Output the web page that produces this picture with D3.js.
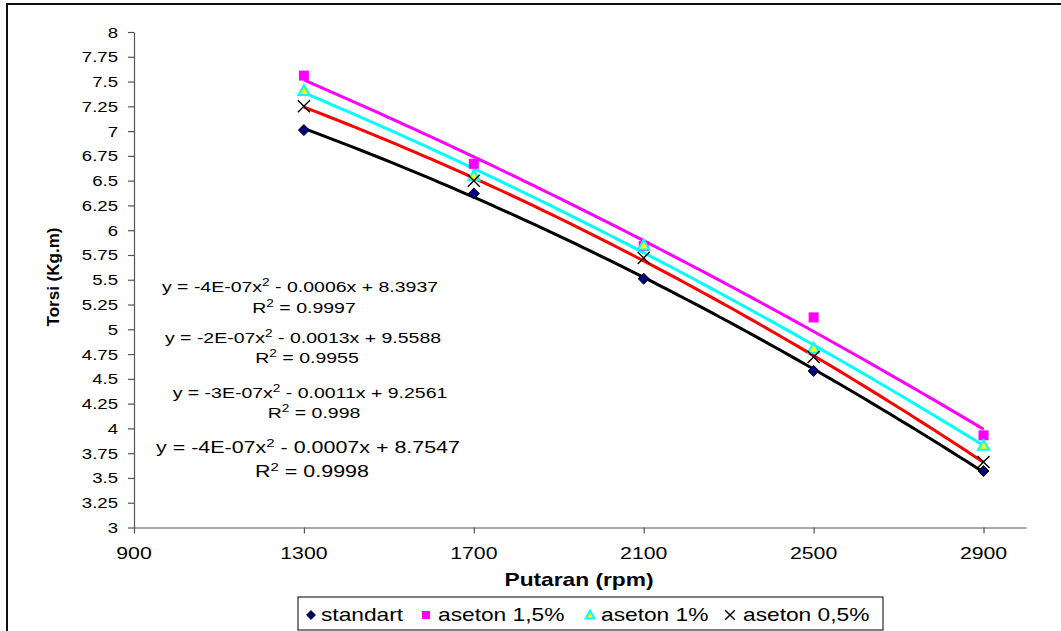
<!DOCTYPE html>
<html>
<head>
<meta charset="utf-8">
<script src="https://cdn.jsdelivr.net/npm/d3@7"></script>
<style>
  body { margin: 0; background: #fff; }
  svg { display: block; font-family: "Liberation Sans", Arial, sans-serif; }
</style>
</head>
<body>
<div id="chart"></div>
<script>
// rpm values on the x axis
const putaran = [1300, 1700, 2100, 2500, 2900];

// torque readings per fuel mix (Kg.m)
const standart = [7.01, 6.37, 5.51, 4.58, 3.57];
const aseton15 = [7.56, 6.67, 5.84, 5.12, 3.93];
const aseton10 = [7.41, 6.55, 5.85, 4.81, 3.83];
const aseton05 = [7.25, 6.50, 5.72, 4.72, 3.66];

const seriesNames = ["standart", "aseton 1,5%", "aseton 1%", "aseton 0,5%"];

const xTicks = [900, 1300, 1700, 2100, 2500, 2900];
const yTicks = d3.range(3, 8.001, 0.25);

// trendline labels as printed on the chart
const equations = [
    { eq: ["y = -4E-07x", "2", " - 0.0006x + 8.3937"], r2: "0.9997" },
    { eq: ["y = -2E-07x", "2", " - 0.0013x + 9.5588"], r2: "0.9955" },
    { eq: ["y = -3E-07x", "2", " - 0.0011x + 9.2561"], r2: "0.998" },
    { eq: ["y = -4E-07x", "2", " - 0.0007x + 8.7547"], r2: "0.9998" }
];

const width = 1061, height = 631;
const svg = d3.select("#chart").append("svg")
    .attr("width", width)
    .attr("height", height);

// outer chart frame
svg.append("rect")
    .attr("x", 7).attr("y", 4)
    .attr("width", 1200).attr("height", 800)
    .attr("fill", "none")
    .attr("stroke", "#111")
    .attr("stroke-width", 2);

const x = d3.scaleLinear().domain([900, 3000]).range([134, 1026]);
const y = d3.scaleLinear().domain([3, 8]).range([527.5, 32]);

// stretched text helper (the original renders text wide)
function label(g, tx, ty, txt, opts) {
    const t = g.append("text")
        .attr("transform", `translate(${tx},${ty}) scale(${opts.sx || 1},1)`)
        .attr("font-size", opts.size)
        .attr("text-anchor", opts.anchor || "start")
        .attr("font-weight", opts.weight || "normal")
        .attr("fill", "#000");
    if (txt !== null) t.text(txt);
    return t;
}

// axes
const gx = svg.append("g")
    .attr("transform", `translate(0,${y(3)})`)
    .call(d3.axisBottom(x).tickValues(xTicks).tickSizeInner(6).tickSizeOuter(0).tickFormat(""));
const gy = svg.append("g")
    .attr("transform", `translate(${x(900)},0)`)
    .call(d3.axisLeft(y).tickValues(yTicks).tickSizeInner(6).tickSizeOuter(0).tickFormat(""));
svg.selectAll(".domain, .tick line").attr("stroke", "#555").attr("stroke-width", 1.2);

xTicks.forEach(v => label(svg, x(v), 559, String(v), { size: 17, sx: 1.25, anchor: "middle" }));
yTicks.forEach(v => label(svg, 118, y(v) + 5.5, String(+v.toFixed(2)), { size: 15.5, sx: 1.2, anchor: "end" }));

// axis titles
label(svg, 579, 586, "Putaran (rpm)", { size: 17.5, sx: 1.3, anchor: "middle", weight: "bold" });
svg.append("text")
    .attr("transform", `translate(59,277) rotate(-90)`)
    .attr("font-size", 17)
    .attr("font-weight", "bold")
    .attr("text-anchor", "middle")
    .text("Torsi (Kg.m)");

// quadratic least-squares fit, like the spreadsheet trendline
function polyFit(xs, ys) {
    const s = [0, 0, 0, 0, 0], t = [0, 0, 0];
    xs.forEach((xv, i) => {
        const u = xv / 1000;
        for (let k = 0; k < 5; k++) s[k] += Math.pow(u, k);
        for (let k = 0; k < 3; k++) t[k] += ys[i] * Math.pow(u, k);
    });
    const A = [[s[0], s[1], s[2], t[0]], [s[1], s[2], s[3], t[1]], [s[2], s[3], s[4], t[2]]];
    for (let i = 0; i < 3; i++) {
        for (let j = i + 1; j < 3; j++) {
            const f = A[j][i] / A[i][i];
            for (let k = i; k < 4; k++) A[j][k] -= f * A[i][k];
        }
    }
    const c = [0, 0, 0];
    for (let i = 2; i >= 0; i--) {
        let sum = A[i][3];
        for (let k = i + 1; k < 3; k++) sum -= A[i][k] * c[k];
        c[i] = sum / A[i][i];
    }
    return xv => { const u = xv / 1000; return c[0] + c[1] * u + c[2] * u * u; };
}

const series = [
    { name: seriesNames[0], values: standart, line: "#000000", marker: "diamond" },
    { name: seriesNames[3], values: aseton05, line: "#ff0000", marker: "cross" },
    { name: seriesNames[2], values: aseton10, line: "#00ffff", marker: "triangle" },
    { name: seriesNames[1], values: aseton15, line: "#ff00ff", marker: "square" }
];

const line = d3.line().x(d => x(d[0])).y(d => y(d[1])).curve(d3.curveLinear);
const xs = d3.range(1300, 2900.1, 20);
series.forEach(s => {
    const f = polyFit(putaran, s.values);
    svg.append("path")
        .attr("d", line(xs.map(v => [v, f(v)])))
        .attr("fill", "none")
        .attr("stroke", s.line)
        .attr("stroke-width", 3);
});

function drawMarker(g, type, cx, cy, k) {
    k = k || 1;
    if (type === "diamond") {
        g.append("path")
            .attr("d", `M${cx},${cy - 5.5 * k}L${cx + 5.5 * k},${cy}L${cx},${cy + 5.5 * k}L${cx - 5.5 * k},${cy}Z`)
            .attr("fill", "#000080").attr("stroke", "#000").attr("stroke-width", 1);
    } else if (type === "square") {
        g.append("rect")
            .attr("x", cx - 5 * k).attr("y", cy - 5 * k)
            .attr("width", 10 * k).attr("height", 10 * k)
            .attr("fill", "#ff00ff");
    } else if (type === "triangle") {
        g.append("path")
            .attr("d", `M${cx},${cy - 5.5 * k}L${cx + 5.5 * k},${cy + 4.5 * k}L${cx - 5.5 * k},${cy + 4.5 * k}Z`)
            .attr("fill", "#ffff00").attr("stroke", "#00ffff").attr("stroke-width", 2);
    } else {
        g.append("path")
            .attr("d", `M${cx - 6 * k},${cy - 6 * k}L${cx + 6 * k},${cy + 6 * k}M${cx + 6 * k},${cy - 6 * k}L${cx - 6 * k},${cy + 6 * k}`)
            .attr("stroke", "#000").attr("stroke-width", 1.4).attr("fill", "none");
    }
}

const markOrder = [series[0], series[3], series[2], series[1]];
markOrder.forEach(s => {
    s.values.forEach((v, i) => drawMarker(svg, s.marker, x(putaran[i]), y(v)));
});

// trendline equation labels
const eqPos = [
    { cx: 300, y1: 292, y2: 313, size: 15 },
    { cx: 303, y1: 343, y2: 363, size: 15 },
    { cx: 310, y1: 398, y2: 418, size: 15 },
    { cx: 308, y1: 453, y2: 477, size: 16.5 }
];
equations.forEach((e, i) => {
    const p = eqPos[i];
    const t = label(svg, p.cx, p.y1, null, { size: p.size, sx: 1.3, anchor: "middle" });
    t.append("tspan").text(e.eq[0]);
    t.append("tspan").attr("dy", -6).attr("font-size", p.size * 0.7).text(e.eq[1]);
    t.append("tspan").attr("dy", 6).text(e.eq[2]);
    const r = label(svg, p.cx + 4, p.y2, null, { size: p.size, sx: 1.3, anchor: "middle" });
    r.append("tspan").text("R");
    r.append("tspan").attr("dy", -6).attr("font-size", p.size * 0.7).text("2");
    r.append("tspan").attr("dy", 6).text(" = " + e.r2);
});

// legend
const lg = svg.append("g");
lg.append("rect")
    .attr("x", 298).attr("y", 597)
    .attr("width", 585).attr("height", 33)
    .attr("fill", "#fff").attr("stroke", "#000").attr("stroke-width", 1);
const legendItems = [
    { marker: "diamond", mx: 311, tx: 321, name: seriesNames[0] },
    { marker: "square", mx: 426, tx: 438, name: seriesNames[1] },
    { marker: "triangle", mx: 590, tx: 601, name: seriesNames[2] },
    { marker: "cross", mx: 730, tx: 743, name: seriesNames[3] }
];
legendItems.forEach(it => {
    drawMarker(lg, it.marker, it.mx, 615, 0.8);
    label(lg, it.tx, 621, it.name, { size: 17.5, sx: 1.3 });
});
</script>
</body>
</html>
